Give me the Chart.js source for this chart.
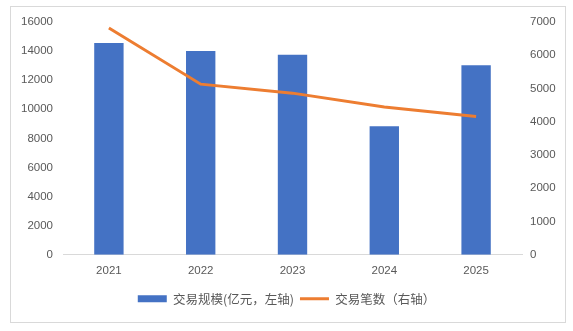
<!DOCTYPE html>
<html>
<head>
<meta charset="utf-8">
<script src="https://cdn.jsdelivr.net/npm/chart.js@4.4.1/dist/chart.umd.min.js"></script>
<style>
  html, body { margin: 0; padding: 0; background: #fff; }
  #wrap { width: 573px; height: 331px; position: relative; }
</style>
</head>
<body>
<div id="wrap"><canvas id="tradechart"></canvas></div>
<script>
// years on the x axis
const years = ['2021', '2022', '2023', '2024', '2025'];
// 交易规模, 亿元 (left axis)
const tradeScale = [14550, 14000, 13750, 8830, 13030];
// 交易笔数 (right axis)
const tradeCount = [6820, 5130, 4860, 4440, 4160];

const leftTicks = [0, 2000, 4000, 6000, 8000, 10000, 12000, 14000, 16000];
const rightTicks = [0, 1000, 2000, 3000, 4000, 5000, 6000, 7000];

const numFont = { family: 'Liberation Sans', size: 11.5 };
const cjkFont = { family: "'Noto Sans CJK SC', 'Liberation Sans'", size: 12.5 };
const textColor = '#595959';

// thin grey frame round the whole chart
const framePlugin = {
    id: 'frame',
    beforeDraw(chart) {
        const ctx = chart.ctx;
        ctx.save();
        ctx.strokeStyle = '#d9d9d9';
        ctx.lineWidth = 1;
        ctx.strokeRect(10.5, 6.5, 555, 316);
        ctx.restore();
    }
};

const data = {
    labels: years,
    datasets: [
        {
            type: 'line',
            label: '交易笔数（右轴）',
            data: tradeCount,
            yAxisID: 'yRight',
            borderColor: '#ED7D31',
            backgroundColor: '#ED7D31',
            borderWidth: 3,
            pointRadius: 0,
            pointStyle: 'line',
            tension: 0,
            order: 0
        },
        {
            type: 'bar',
            label: '交易规模(亿元，左轴)',
            data: tradeScale,
            yAxisID: 'yLeft',
            backgroundColor: '#4472C4',
            borderWidth: 0,
            pointStyle: 'rect',
            categoryPercentage: 1,
            barPercentage: 0.32,
            order: 1
        }
    ]
};

const plainNumber = v => String(v);

const config = {
    data: data,
    options: {
        responsive: true,
        maintainAspectRatio: false,
        animation: false,
        layout: {
            padding: { left: 13, right: 13, top: 22, bottom: 16 }
        },
        plugins: {
            legend: {
                position: 'bottom',
                reverse: true,
                labels: {
                    usePointStyle: true,
                    pointStyleWidth: 29,
                    boxHeight: 7,
                    padding: 6,
                    color: textColor,
                    font: cjkFont
                }
            },
            tooltip: { enabled: false }
        },
        scales: {
            x: {
                grid: { display: false, drawTicks: false },
                border: { display: true, color: '#d9d9d9', width: 1 },
                ticks: { color: textColor, font: numFont, padding: 9 }
            },
            yLeft: {
                position: 'left',
                min: 0,
                max: 16000,
                afterBuildTicks(axis) { axis.ticks = leftTicks.map(v => ({ value: v })); },
                afterFit(axis) { axis.width = 50; },
                grid: { display: false, drawTicks: false },
                border: { display: false },
                ticks: { color: textColor, font: numFont, padding: 10, callback: plainNumber }
            },
            yRight: {
                position: 'right',
                min: 0,
                max: 7000,
                afterBuildTicks(axis) { axis.ticks = rightTicks.map(v => ({ value: v })); },
                afterFit(axis) { axis.width = 38; },
                grid: { display: false, drawTicks: false },
                border: { display: false },
                ticks: { color: textColor, font: numFont, padding: 8, callback: plainNumber }
            }
        }
    },
    plugins: [framePlugin]
};

new Chart(document.getElementById('tradechart'), config);
</script>
</body>
</html>
